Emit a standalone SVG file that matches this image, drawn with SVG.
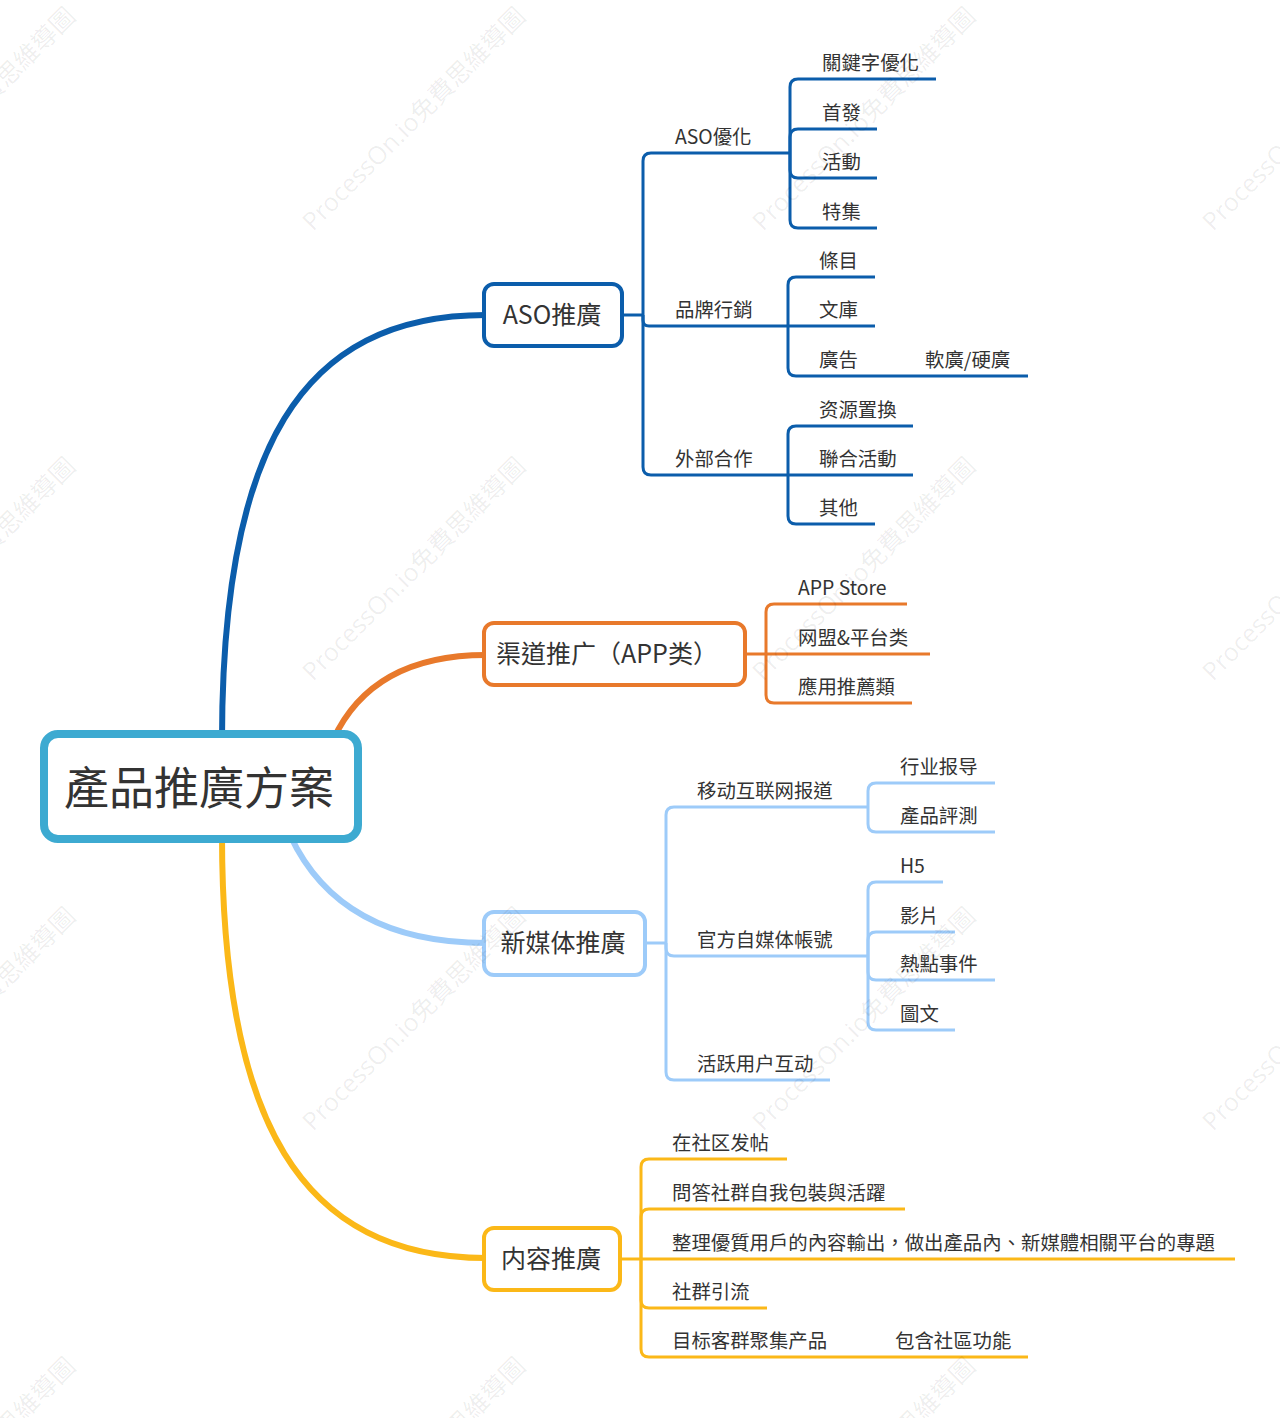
<svg xmlns="http://www.w3.org/2000/svg" width="1280" height="1418" viewBox="0 0 1280 1418">
<style>
text{font-family:"Noto Sans CJK TC","Noto Sans CJK SC",sans-serif;fill:#333333}
.t2{font-size:19.4px}
.t1{font-size:25px;text-anchor:middle}
.t0{font-size:45px;text-anchor:middle}
.c{fill:none;stroke-linecap:butt;stroke-linejoin:round}
.main{stroke-width:6}
.sub{stroke-width:3}
.blue{stroke:#0B5DAB}
.orange{stroke:#E8792B}
.lblue{stroke:#9DCBF9}
.yellow{stroke:#FBB818}
.box{fill:#ffffff;stroke-width:4}
.wm{font-family:"Open Sans","Noto Sans CJK TC",sans-serif;font-size:25px;fill:#000;fill-opacity:0.07}
</style>
<rect width="1280" height="1418" fill="#ffffff"/>
<g id="connectors">
<path class="c main blue" d="M222 740 C222 450 300 315 486 315"/>
<path class="c main orange" d="M333 740 Q372 655 486 655"/>
<path class="c main lblue" d="M290 835 Q340 943 486 943"/>
<path class="c main yellow" d="M222 835 C222 1120 300 1258 486 1258"/>
<path class="c sub blue" d="M622 315 H643"/>
<path class="c sub blue" d="M643 315 V161 Q643 153 651 153 H790"/>
<path class="c sub blue" d="M643 315 V320 Q643 326 649 326 H788"/>
<path class="c sub blue" d="M643 315 V467 Q643 475 651 475 H788"/>
<path class="c sub blue" d="M790 153 V87 Q790 79 798 79 H936"/>
<path class="c sub blue" d="M790 153 V137 Q790 129 798 129 H877"/>
<path class="c sub blue" d="M790 153 V170 Q790 178 798 178 H877"/>
<path class="c sub blue" d="M790 153 V220 Q790 228 798 228 H877"/>
<path class="c sub blue" d="M788 326 V285 Q788 277 796 277 H875"/>
<path class="c sub blue" d="M788 326 H875"/>
<path class="c sub blue" d="M788 326 V368 Q788 376 796 376 H875"/>
<path class="c sub blue" d="M875 376 H1028"/>
<path class="c sub blue" d="M788 475 V434 Q788 426 796 426 H913"/>
<path class="c sub blue" d="M788 475 H913"/>
<path class="c sub blue" d="M788 475 V516 Q788 524 796 524 H875"/>
<path class="c sub orange" d="M745 654 H766"/>
<path class="c sub orange" d="M766 654 V612 Q766 604 774 604 H907"/>
<path class="c sub orange" d="M766 654 H930"/>
<path class="c sub orange" d="M766 654 V695 Q766 703 774 703 H912"/>
<path class="c sub lblue" d="M645 943 H666"/>
<path class="c sub lblue" d="M666 943 V815 Q666 807 674 807 H868"/>
<path class="c sub lblue" d="M666 943 V948 Q666 956 674 956 H868"/>
<path class="c sub lblue" d="M666 943 V1072 Q666 1080 674 1080 H830"/>
<path class="c sub lblue" d="M868 807 V791 Q868 783 876 783 H995"/>
<path class="c sub lblue" d="M868 807 V824 Q868 832 876 832 H995"/>
<path class="c sub lblue" d="M868 956 V890 Q868 882 876 882 H943"/>
<path class="c sub lblue" d="M868 956 V940 Q868 932 876 932 H955"/>
<path class="c sub lblue" d="M868 956 V972 Q868 980 876 980 H995"/>
<path class="c sub lblue" d="M868 956 V1022 Q868 1030 876 1030 H955"/>
<path class="c sub yellow" d="M620 1259 H641"/>
<path class="c sub yellow" d="M641 1259 V1167 Q641 1159 649 1159 H787"/>
<path class="c sub yellow" d="M641 1259 V1217 Q641 1209 649 1209 H905"/>
<path class="c sub yellow" d="M641 1259 H1235"/>
<path class="c sub yellow" d="M641 1259 V1300 Q641 1308 649 1308 H767"/>
<path class="c sub yellow" d="M641 1259 V1349 Q641 1357 649 1357 H880"/>
<path class="c sub yellow" d="M880 1357 H1028"/>
</g>
<g id="root">
<rect x="44" y="734" width="314" height="105" rx="14" fill="#ffffff" stroke="#3DAAD1" stroke-width="8"/>
<text class="t0" x="199" y="805">產品推廣方案</text>
</g>
<g id="n-aso">
<rect class="box" x="484" y="284" width="138" height="62" rx="10" stroke="#0B5DAB"/>
<text class="t1" x="552" y="324">ASO推廣</text>
</g>
<g id="n-channel">
<rect class="box" x="484" y="623" width="261" height="62" rx="10" stroke="#E8792B"/>
<text class="t1" x="607" y="663">渠道推广（APP类）</text>
</g>
<g id="n-media">
<rect class="box" x="484" y="912" width="161" height="63" rx="10" stroke="#9DCBF9"/>
<text class="t1" x="563" y="952">新媒体推廣</text>
</g>
<g id="n-content">
<rect class="box" x="484" y="1228" width="136" height="62" rx="10" stroke="#FBB818"/>
<text class="t1" x="551" y="1268">内容推廣</text>
</g>
<g id="aso-children">
<text class="t2" x="675" y="144">ASO優化</text>
<text class="t2" x="675" y="317">品牌行銷</text>
<text class="t2" x="675" y="466">外部合作</text>
<text class="t2" x="822" y="70">關鍵字優化</text>
<text class="t2" x="822" y="120">首發</text>
<text class="t2" x="822" y="169">活動</text>
<text class="t2" x="822" y="219">特集</text>
<text class="t2" x="819" y="268">條目</text>
<text class="t2" x="819" y="317">文庫</text>
<text class="t2" x="819" y="367">廣告</text>
<text class="t2" x="925" y="367">軟廣/硬廣</text>
<text class="t2" x="819" y="417">资源置換</text>
<text class="t2" x="819" y="466">聯合活動</text>
<text class="t2" x="819" y="515">其他</text>
</g>
<g id="channel-children">
<text class="t2" x="798" y="595">APP Store</text>
<text class="t2" x="798" y="645">网盟&amp;平台类</text>
<text class="t2" x="798" y="694">應用推薦類</text>
</g>
<g id="media-children">
<text class="t2" x="697" y="798">移动互联网报道</text>
<text class="t2" x="697" y="947">官方自媒体帳號</text>
<text class="t2" x="697" y="1071">活跃用户互动</text>
<text class="t2" x="900" y="774">行业报导</text>
<text class="t2" x="900" y="823">產品評測</text>
<text class="t2" x="900" y="873">H5</text>
<text class="t2" x="900" y="923">影片</text>
<text class="t2" x="900" y="971">熱點事件</text>
<text class="t2" x="900" y="1021">圖文</text>
</g>
<g id="content-children">
<text class="t2" x="672" y="1150">在社区发帖</text>
<text class="t2" x="672" y="1200">問答社群自我包裝與活躍</text>
<text class="t2" x="672" y="1250">整理優質用戶的內容輸出，做出產品內、新媒體相關平台的專題</text>
<text class="t2" x="672" y="1299">社群引流</text>
<text class="t2" x="672" y="1348">目标客群聚集产品</text>
<text class="t2" x="895" y="1348">包含社區功能</text>
</g>
<g id="watermark">
<text class="wm" transform="translate(-137 232) rotate(-45)">ProcessOn.io免費思維導圖</text>
<text class="wm" transform="translate(313 232) rotate(-45)">ProcessOn.io免費思維導圖</text>
<text class="wm" transform="translate(763 232) rotate(-45)">ProcessOn.io免費思維導圖</text>
<text class="wm" transform="translate(1213 232) rotate(-45)">ProcessOn.io免費思維導圖</text>
<text class="wm" transform="translate(-137 682) rotate(-45)">ProcessOn.io免費思維導圖</text>
<text class="wm" transform="translate(313 682) rotate(-45)">ProcessOn.io免費思維導圖</text>
<text class="wm" transform="translate(763 682) rotate(-45)">ProcessOn.io免費思維導圖</text>
<text class="wm" transform="translate(1213 682) rotate(-45)">ProcessOn.io免費思維導圖</text>
<text class="wm" transform="translate(-137 1132) rotate(-45)">ProcessOn.io免費思維導圖</text>
<text class="wm" transform="translate(313 1132) rotate(-45)">ProcessOn.io免費思維導圖</text>
<text class="wm" transform="translate(763 1132) rotate(-45)">ProcessOn.io免費思維導圖</text>
<text class="wm" transform="translate(1213 1132) rotate(-45)">ProcessOn.io免費思維導圖</text>
<text class="wm" transform="translate(-137 1582) rotate(-45)">ProcessOn.io免費思維導圖</text>
<text class="wm" transform="translate(313 1582) rotate(-45)">ProcessOn.io免費思維導圖</text>
<text class="wm" transform="translate(763 1582) rotate(-45)">ProcessOn.io免費思維導圖</text>
</g>
</svg>
